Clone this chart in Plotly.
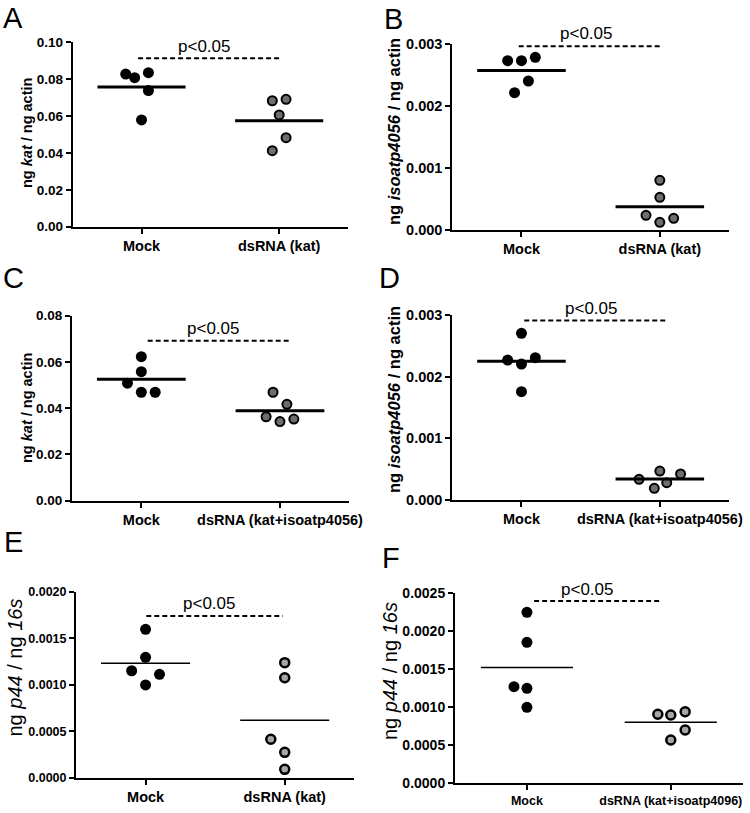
import plotly.graph_objects as go

W, H = 750, 813
FONT = "Liberation Sans, Arial, sans-serif"

# ---- data (5 animals per group) ----
# A: kat after dsRNA(kat)
a_mock = [0.0828, 0.0808, 0.0835, 0.0738, 0.0579]
a_ds = [0.0683, 0.0691, 0.0606, 0.0483, 0.0412]
# B: isoatp4056 after dsRNA(kat)
b_mock = [0.002735, 0.002735, 0.00279, 0.002407, 0.002218]
b_ds = [0.000803, 0.000528, 0.000237, 0.000189, 0.000124]
# C: kat after dsRNA(kat+isoatp4056)
c_mock = [0.0623, 0.0558, 0.0508, 0.0469, 0.0469]
c_ds = [0.0469, 0.0417, 0.0363, 0.0342, 0.0353]
# D: isoatp4056 after dsRNA(kat+isoatp4056)
d_mock = [0.002703, 0.00227, 0.002205, 0.002308, 0.001757]
d_ds = [0.000335, 0.00047, 0.000422, 0.000281, 0.00019]
# E: p44 after dsRNA(kat)
e_mock = [0.001596, 0.001295, 0.00115, 0.001112, 0.000997]
e_ds = [0.001237, 0.001075, 0.000413, 0.000273, 0.00009]
# F: p44 after dsRNA(kat+isoatp4096)
f_mock = [0.00225, 0.001855, 0.001271, 0.00125, 0.001]
f_ds = [0.000908, 0.000899, 0.000942, 0.000701, 0.00057]

# horizontal scatter offsets (category units), as GraphPad spreads ties
a_mock_dx = [-0.115, -0.05, 0.05, 0.05, 0.0]
a_ds_dx = [-0.05, 0.05, 0.0, 0.05, -0.05]
b_mock_dx = [-0.1, 0.0, 0.1, 0.05, -0.05]
b_ds_dx = [0.0, 0.0, -0.1, 0.1, 0.0]
c_mock_dx = [0.0, 0.0, -0.1, 0.0, 0.1]
c_ds_dx = [-0.05, 0.05, -0.1, 0.0, 0.1]
d_mock_dx = [0.0, -0.1, 0.0, 0.1, 0.0]
d_ds_dx = [-0.15, 0.0, 0.15, 0.05, -0.04]
e_mock_dx = [0.0, 0.0, -0.1, 0.1, 0.0]
e_ds_dx = [0.0, 0.0, -0.1, 0.0, 0.0]
f_mock_dx = [0.0, 0.0, -0.09, 0.0, 0.0]
f_ds_dx = [-0.09, 0.0, 0.1, 0.1, 0.0]

# height of the significance bar in each panel
p_levels = [0.0913, 0.00297, 0.0692, 0.00291, 0.00174, 0.0024]

labels_kat = ["Mock", "dsRNA (kat)"]
labels_both = ["Mock", "dsRNA (kat+isoatp4056)"]
labels_f = ["Mock", "dsRNA (kat+isoatp4096)"]

panels = [
    dict(letter="A", mock=a_mock, ds=a_ds, mdx=a_mock_dx, ddx=a_ds_dx, labels=labels_kat,
         ytitle="<b>ng <i>kat</i> / ng actin</b>", ymax=0.10, dtick=0.02, fmt=".2f",
         box=(72.7, 348, 42.3, 226.7), tsize=13.5, xsize=14.5, ttl=(27, 133, 14.5), lpos=(13, 18),
         ppos=(204, 46), bar=(-0.025, 1.01), gray="#6e6e6e", lw=3, thin=False),
    dict(letter="B", mock=b_mock, ds=b_ds, mdx=b_mock_dx, ddx=b_ds_dx, labels=labels_kat,
         ytitle="<b>ng <i>isoatp4056</i> / ng actin</b>", ymax=0.003, dtick=0.001, fmt=".3f",
         box=(452.3, 729, 44.3, 230), tsize=14.5, xsize=14.5, ttl=(394, 132, 16.5), lpos=(393, 19),
         ppos=(586, 33), bar=(-0.02, 1.016), gray="#6e6e6e", lw=3, thin=False),
    dict(letter="C", mock=c_mock, ds=c_ds, mdx=c_mock_dx, ddx=c_ds_dx, labels=labels_both,
         ytitle="<b>ng <i>kat</i> / ng actin</b>", ymax=0.08, dtick=0.02, fmt=".2f",
         box=(72, 349.3, 315.7, 500.7), tsize=13.5, xsize=14.5, ttl=(27, 408, 14.5), lpos=(13, 278),
         ppos=(213, 328), bar=(0.046, 1.07), gray="#6e6e6e", lw=3, thin=False),
    dict(letter="D", mock=d_mock, ds=d_ds, mdx=d_mock_dx, ddx=d_ds_dx, labels=labels_both,
         ytitle="<b>ng <i>isoatp4056</i> / ng actin</b>", ymax=0.003, dtick=0.001, fmt=".3f",
         box=(452.3, 729, 315, 500), tsize=14.5, xsize=14.5, ttl=(394, 400, 16.5), lpos=(389, 278),
         ppos=(591, 308), bar=(0.02, 1.05), gray="#6e6e6e", lw=3, thin=False),
    dict(letter="E", mock=e_mock, ds=e_ds, mdx=e_mock_dx, ddx=e_ds_dx, labels=labels_kat,
         ytitle="ng <i>p44</i> / ng <i>16s</i>", ymax=0.002, dtick=0.0005, fmt=".4f",
         box=(76, 354.3, 591.7, 777.7), tsize=12.5, xsize=14.5, ttl=(14.5, 668, 20), lpos=(13, 542),
         ppos=(209, 603), bar=(0.005, 0.986), gray="#a6a6a6", lw=1.5, thin=True),
    dict(letter="F", mock=f_mock, ds=f_ds, mdx=f_mock_dx, ddx=f_ds_dx, labels=labels_f,
         ytitle="ng <i>p44</i> / ng <i>16s</i>", ymax=0.0025, dtick=0.0005, fmt=".4f",
         box=(455, 742.7, 593.3, 783.3), tsize=14, xsize=12.5, ttl=(390, 671, 20), lpos=(391, 558),
         ppos=(587, 589), bar=(0.05, 0.93), gray="#a6a6a6", lw=1.5, thin=True),
]

fig = go.Figure()
annotations = []

for k, p in enumerate(panels, start=1):
    xs = "" if k == 1 else str(k)
    xref, yref = "x" + xs, "y" + xs
    x0, x1, ytop, ybot = p["box"]

    axis_style = dict(showline=True, linewidth=2, linecolor="black", ticks="outside",
                      ticklen=5, tickwidth=2, tickcolor="black", showgrid=False,
                      zeroline=False, fixedrange=True, automargin=False)
    fig.update_layout({
        "xaxis" + xs: dict(axis_style, domain=[x0 / W, x1 / W], range=[-0.5, 1.5],
                           tickvals=[0, 1], ticktext=["<b>%s</b>" % t for t in p["labels"]],
                           tickfont=dict(family=FONT, size=p["xsize"], color="black"),
                           anchor=yref),
        "yaxis" + xs: dict(axis_style, domain=[1 - ybot / H, 1 - ytop / H],
                           range=[0, p["ymax"]], dtick=p["dtick"], tick0=0,
                           tickformat=p["fmt"],
                           tickfont=dict(family=FONT, size=p["tsize"], color="black",
                                         weight="bold"),
                           anchor=xref),
    })

    # group points
    mock_x = [0 + d for d in p["mdx"]]
    ds_x = [1 + d for d in p["ddx"]]
    fig.add_trace(go.Scatter(x=mock_x, y=p["mock"], xaxis=xref, yaxis=yref, mode="markers",
                             marker=dict(size=11, color="black", line=dict(width=0)),
                             cliponaxis=False, showlegend=False))
    fig.add_trace(go.Scatter(x=ds_x, y=p["ds"], xaxis=xref, yaxis=yref, mode="markers",
                             marker=dict(size=9, color=p["gray"],
                                         line=dict(width=2.5 if p["thin"] else 2, color="black")),
                             cliponaxis=False, showlegend=False))

    # mean lines
    for c, vals in ((0, p["mock"]), (1, p["ds"])):
        m = sum(vals) / len(vals)
        fig.add_trace(go.Scatter(x=[c - 0.32, c + 0.32], y=[m, m], xaxis=xref, yaxis=yref,
                                 mode="lines", line=dict(color="black", width=p["lw"]),
                                 showlegend=False, hoverinfo="skip"))

    # significance bar
    lvl = p_levels[k - 1]
    fig.add_trace(go.Scatter(x=list(p["bar"]), y=[lvl, lvl], xaxis=xref, yaxis=yref,
                             mode="lines", line=dict(color="black", width=2, dash="5px,3px"),
                             cliponaxis=False, showlegend=False, hoverinfo="skip"))

    annotations.append(dict(text="p<0.05", x=p["ppos"][0] / W, y=1 - p["ppos"][1] / H,
                            xref="paper", yref="paper", xanchor="center", yanchor="middle",
                            showarrow=False, font=dict(family=FONT, size=17, color="black")))
    # y axis title
    annotations.append(dict(text=p["ytitle"], x=p["ttl"][0] / W, y=1 - p["ttl"][1] / H,
                            xref="paper", yref="paper", xanchor="center", yanchor="middle",
                            textangle=-90, showarrow=False,
                            font=dict(family=FONT, size=p["ttl"][2], color="black")))
    # panel letter
    annotations.append(dict(text=p["letter"], x=p["lpos"][0] / W, y=1 - p["lpos"][1] / H,
                            xref="paper", yref="paper", xanchor="center", yanchor="middle",
                            showarrow=False, font=dict(family=FONT, size=29, color="black")))

fig.update_layout(
    template="none",
    width=W, height=H,
    margin=dict(l=0, r=0, t=0, b=0),
    paper_bgcolor="white", plot_bgcolor="white",
    showlegend=False,
    annotations=annotations,
)

# the page body has a default 8px margin; drop it so the figure fills the window
fig.write_html("out.html", config={"displayModeBar": False},
               post_script="document.body.style.margin='0';")
